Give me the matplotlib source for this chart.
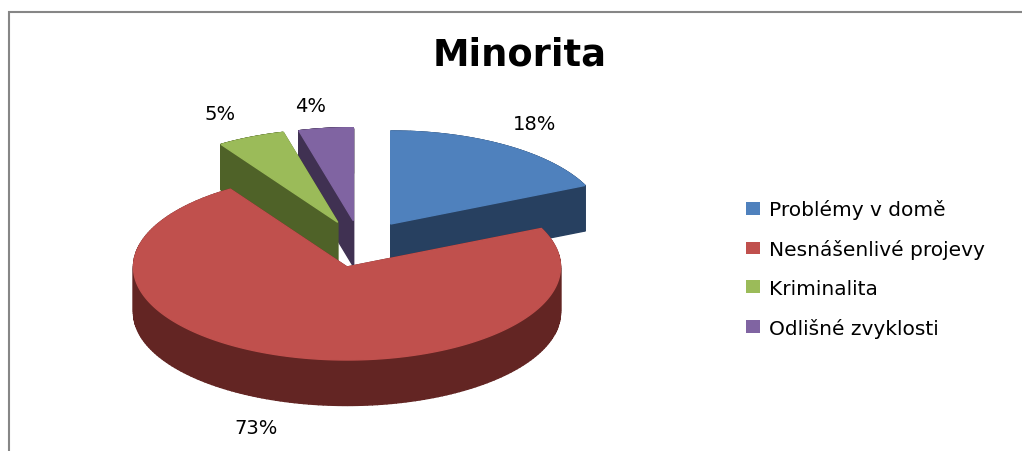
import numpy as np
import matplotlib
matplotlib.use('Agg')
import matplotlib.pyplot as plt
from matplotlib.patches import Patch, Polygon

# data
categories = ['Problémy v domě', 'Nesnášenlivé projevy', 'Kriminalita', 'Odlišné zvyklosti']
shares = [18.2, 72.6, 5.1, 4.1]
top_colors = ['#4F81BD', '#C0504D', '#9BBB59', '#8064A2']
side_colors = ['#274060', '#632523', '#4F6228', '#403152']

# pie geometry in pixels, the picture is drawn 1:1
apex = [(390.7, 225), (347, 268), (337.7, 223.3), (353.3, 221.7)]
rx, ry, depth = 213.5, 93, 45.5
draw_order = [0, 3, 2, 1]
label_pos = [(535, 124), (256, 429), (220, 115), (311, 107)]

fig = plt.figure(figsize=(10.22, 4.52), dpi=100)
ax = fig.add_axes([0, 0, 1, 1])
ax.set_xlim(0, 1022)
ax.set_ylim(452, 0)
ax.axis('off')

# chart frame
ax.plot([8.5, 8.5, 1022], [452, 12.5, 12.5], color='#868686', lw=1.5, solid_joinstyle='miter')

edges = np.cumsum([0] + shares) / sum(shares) * 2 * np.pi

for i in draw_order:
    t = np.linspace(edges[i], edges[i + 1], 200)
    cx, cy = apex[i]
    x = np.r_[cx, cx + rx * np.sin(t)]
    y = np.r_[cy, cy - ry * np.cos(t)]
    c = side_colors[i]
    # side faces: every outline segment pushed down, thick edge hides the seams
    for k in range(len(x)):
        k2 = (k + 1) % len(x)
        quad = [(x[k], y[k]), (x[k2], y[k2]), (x[k2], y[k2] + depth), (x[k], y[k] + depth)]
        ax.add_patch(Polygon(quad, closed=True, fc=c, ec=c, lw=1.0))
    ax.add_patch(Polygon(np.c_[x, y], closed=True, fc=top_colors[i], ec=top_colors[i], lw=1.0))

for share, (lx, ly) in zip(shares, label_pos):
    ax.text(lx, ly, f'{share:.0f}%', ha='center', va='center', fontsize=14, color='black')

ax.text(519.5, 66, 'Minorita', ha='center', va='baseline', fontsize=26.5, fontweight='bold', color='black')

handles = [Patch(fc=c, ec='none', label=n) for c, n in zip(top_colors, categories)]
ax.legend(handles=handles, loc='center left', bbox_to_anchor=(746, 269.5),
          bbox_transform=ax.transData, frameon=False, fontsize=14.5, borderpad=0, borderaxespad=0,
          handlelength=0.69, handleheight=0.6, handletextpad=0.45, labelspacing=0.986)

fig.savefig('out.png', dpi=100)
